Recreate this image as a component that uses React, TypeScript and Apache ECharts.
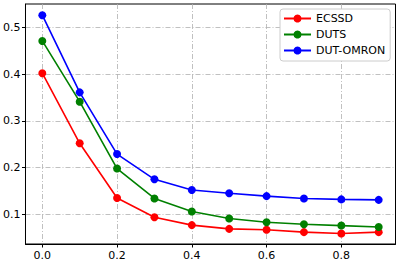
import React, { useEffect, useRef } from "react";
import * as echarts from "echarts";

const xValues = [0.0, 0.1, 0.2, 0.3, 0.4, 0.5, 0.6, 0.7, 0.8, 0.9];
const ecssd = [0.402, 0.252, 0.135, 0.094, 0.077, 0.069, 0.067, 0.062, 0.059, 0.062];
const duts = [0.471, 0.341, 0.198, 0.134, 0.106, 0.091, 0.083, 0.079, 0.076, 0.073];
const dutOmron = [0.526, 0.361, 0.229, 0.175, 0.152, 0.145, 0.139, 0.134, 0.132, 0.131];
const xTicks = [0.0, 0.2, 0.4, 0.6, 0.8];
const yTicks = [0.1, 0.2, 0.3, 0.4, 0.5];

const seriesDefs = [
  { name: "ECSSD", data: ecssd, color: "#ff0000" },
  { name: "DUTS", data: duts, color: "#008000" },
  { name: "DUT-OMRON", data: dutOmron, color: "#0000ff" },
];

const FONT = "DejaVu Sans";

export default function App() {
  const ref = useRef<HTMLDivElement>(null);
  useEffect(() => {
    if (!ref.current) return;
    const chart = echarts.init(ref.current, null, { renderer: "svg" });
    const gridLine = { show: true, lineStyle: { color: "#b0b0b0", width: 0.8, type: [5, 2, 1, 2] } };
    chart.setOption({
      animation: false,
      grid: { left: 25, right: 3.5, top: 4, bottom: 19, show: true, borderColor: "#000", borderWidth: 1, containLabel: false },
      legend: {
        orient: "vertical",
        left: 280,
        top: 9,
        padding: [4, 5, 5, 3],
        itemWidth: 27,
        itemHeight: 10,
        itemGap: 5,
        backgroundColor: "#fff",
        borderColor: "#cccccc",
        borderWidth: 1,
        borderRadius: 3,
        textStyle: { fontFamily: FONT, fontSize: 11, color: "#000", lineHeight: 11 },
        data: seriesDefs.map((s) => s.name),
      },
      xAxis: {
        type: "value",
        min: -0.045,
        max: 0.945,
        axisLine: { show: true, onZero: false, lineStyle: { color: "#000", width: 1 } },
        axisTick: { show: true, length: 3.5, lineStyle: { color: "#000" }, customValues: xTicks },
        axisLabel: {
          customValues: xTicks,
          margin: 6,
          fontFamily: FONT,
          fontSize: 11,
          color: "#000",
          formatter: (v: number) => v.toFixed(1),
        },
        splitLine: gridLine,
      },
      yAxis: {
        type: "value",
        min: 0.0366,
        max: 0.55,
        axisLine: { show: true, onZero: false, lineStyle: { color: "#000", width: 1 } },
        axisTick: { show: true, length: 3.5, lineStyle: { color: "#000" }, customValues: yTicks },
        axisLabel: {
          customValues: yTicks,
          margin: 5,
          fontFamily: FONT,
          fontSize: 11,
          color: "#000",
          formatter: (v: number) => v.toFixed(1),
        },
        splitLine: gridLine,
      },
      series: seriesDefs.map((s) => ({
        name: s.name,
        type: "line",
        data: xValues.map((x, i) => [x, s.data[i]]),
        symbol: "circle",
        symbolSize: 8,
        color: s.color,
        lineStyle: { color: s.color, width: 1.6 },
        itemStyle: { color: s.color },
        clip: false,
      })),
    });
    return () => chart.dispose();
  }, []);
  return <div ref={ref} style={{ width: 399, height: 263, position: "absolute", left: 0, top: 0 }} />;
}
